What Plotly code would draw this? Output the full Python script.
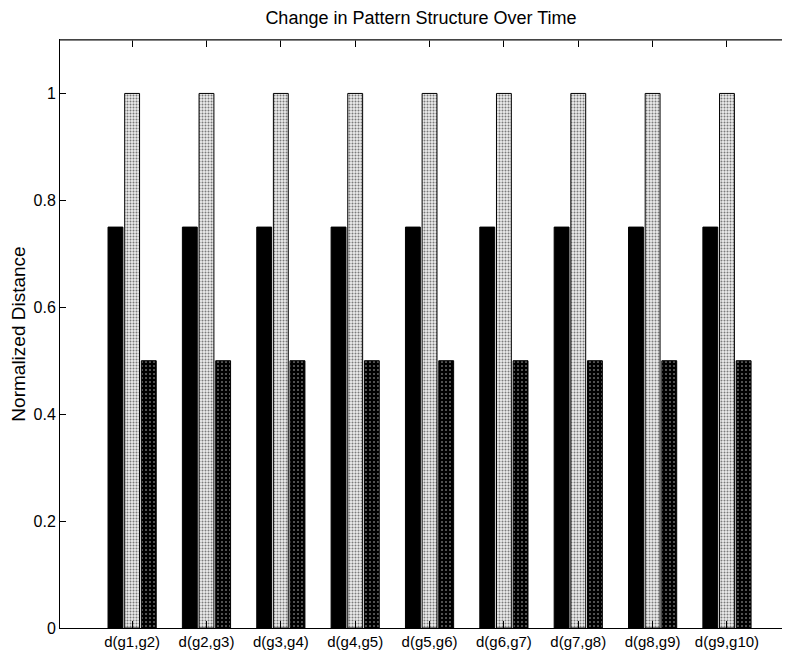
import plotly.graph_objects as go

categories = ["d(g1,g2)", "d(g2,g3)", "d(g3,g4)", "d(g4,g5)", "d(g5,g6)",
              "d(g6,g7)", "d(g7,g8)", "d(g8,g9)", "d(g9,g10)"]
series_a = [0.75, 0.75, 0.75, 0.75, 0.75, 0.75, 0.75, 0.75, 0.75]
series_b = [1.0, 1.0, 1.0, 1.0, 1.0, 1.0, 1.0, 1.0, 1.0]
series_c = [0.5, 0.5, 0.5, 0.5, 0.5, 0.5, 0.5, 0.5, 0.5]
y_ticks = [0, 0.2, 0.4, 0.6, 0.8, 1]
y_ticklabels = ["0", "0.2", "0.4", "0.6", "0.8", "1"]

fig = go.Figure()
fig.add_trace(go.Bar(x=categories, y=series_a, name="a",
                     marker=dict(color="black", line=dict(color="black", width=1))))
fig.add_trace(go.Bar(x=categories, y=series_b, name="b",
                     marker=dict(color="#e6e6e6", line=dict(color="black", width=1),
                                 pattern=dict(shape=".", bgcolor="#ececec", fgcolor="#7a7a7a",
                                              size=3, solidity=0.35, fillmode="replace"))))
fig.add_trace(go.Bar(x=categories, y=series_c, name="c",
                     marker=dict(color="black", line=dict(color="black", width=1),
                                 pattern=dict(shape=".", bgcolor="black", fgcolor="#6a6a6a",
                                              size=4, solidity=0.2, fillmode="replace"))))

fig.update_layout(
    width=786, height=644,
    margin=dict(l=52, r=12, t=32, b=24, autoexpand=False),
    paper_bgcolor="white", plot_bgcolor="white",
    barmode="group", bargap=0.328, bargroupgap=0.107,
    showlegend=False,
    font=dict(family="Liberation Sans, Arial, sans-serif", color="black", size=16),
    title=dict(text="Change in Pattern Structure Over Time", x=0.5254, xanchor="center",
               xref="container", y=0.985, yref="container", yanchor="middle",
               font=dict(size=18, color="black")),
    xaxis=dict(type="category", range=[-0.97, 8.74], showline=True, linecolor="black",
               linewidth=1, mirror="ticks", ticks="inside", ticklen=7, tickcolor="black",
               showgrid=False, zeroline=False, tickfont=dict(size=15), automargin=False),
    yaxis=dict(range=[0, 1.1], tickvals=y_ticks, ticktext=y_ticklabels, showline=True,
               linecolor="black", linewidth=1, ticks="inside", ticklen=6, tickcolor="black",
               showgrid=False, zeroline=False, tickfont=dict(size=16), automargin=False,
               title=dict(text="Normalized Distance", font=dict(size=19), standoff=14)),
    shapes=[dict(type="line", xref="paper", yref="paper", x0=0, x1=1, y0=1, y1=1,
                 line=dict(color="#5a5a5a", width=1.5), layer="above")],
)

fig.write_html("out.html")
